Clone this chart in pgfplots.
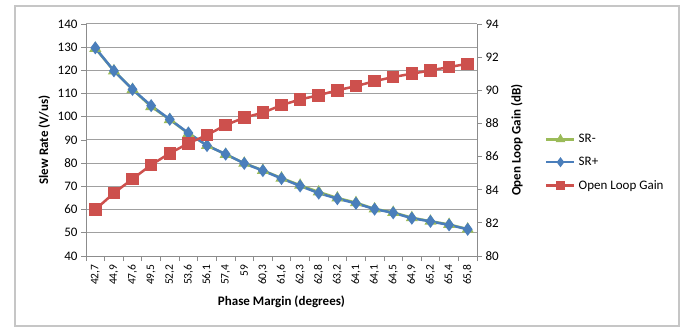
\documentclass[border=0pt]{standalone}
\usepackage{pgfplots}
\pgfplotsset{compat=1.18}
\usepackage{fontspec}
\setmainfont{Carlito}
\definecolor{srblue}{RGB}{74,126,187}
\definecolor{srred}{RGB}{205,80,77}
\definecolor{srgreen}{RGB}{155,187,89}
\definecolor{gridgray}{RGB}{160,160,160}
\definecolor{axgray}{RGB}{140,140,140}
\begin{document}
\begin{tikzpicture}[x=1pt,y=1pt]
\fill[white] (0,0) rectangle (684,329);
\useasboundingbox (0,0) rectangle (684,329);
\draw[gray!45, line width=1.2pt] (15,3) rectangle (679,323);
\pgfplotsset{
  common/.style={
    at={(86pt,73pt)}, anchor=south west,
    scale only axis, width=391pt, height=232pt,
    xmin=-0.5, xmax=20.5,
    tick align=outside,
    major tick length=5pt,
    tick style={draw=axgray, line width=0.8pt},
    axis line style={draw=axgray, line width=1pt},
    /pgf/number format/assume math mode=true,
    y tick label style={font=\fontsize{13}{13}\selectfont},
    label style={font=\fontsize{13}{13}\selectfont\bfseries},
  },
  legend image code/.code={\draw[mark repeat=2,mark phase=2,#1,mark size=3pt] plot coordinates {(0pt,0pt) (14pt,0pt) (28pt,0pt)};},
}
\begin{axis}[common,
  ymin=40, ymax=140, ytick={40,50,...,140},
  axis x line*=bottom, axis y line*=left,
  ymajorgrids, grid style={draw=gridgray, line width=1pt},
  xtick={-0.5,0.5,...,20.5},
  x tick label as interval,
  xticklabels={{42,7},{44,9},{47,6},{49,5},{52,2},{53,6},{56,1},{57,4},{59},{60,3},{61,6},{62,3},{62,8},{63,2},{64,1},{64,1},{64,5},{64,9},{65,2},{65,4},{65,8}},
  x tick label style={rotate=90, anchor=east, font=\fontsize{11.5}{11.5}\selectfont},
  xlabel={Phase Margin (degrees)},
  xlabel style={at={(axis description cs:0.5,-0.198)}, anchor=center},
  ylabel={Slew Rate (V/us)},
  ylabel style={at={(axis description cs:-0.107,0.5)}, anchor=center},
]
\addplot[srgreen, line width=2.5pt, mark=triangle*, mark size=4.5pt, mark options={solid}] coordinates {
(0,129.5) (1,119.8) (2,111.8) (3,104.4) (4,98.8) (5,92.8) (6,87.7) (7,83.8) (8,80.0) (9,76.9) (10,73.6) (11,70.5) (12,67.6) (13,65.0) (14,63.0) (15,60.3) (16,58.8) (17,56.5) (18,55.0) (19,53.6) (20,51.6)};
\addplot[srblue, line width=2.5pt, mark=diamond*, mark size=4.5pt, mark options={solid}] coordinates {
(0,129.7) (1,119.8) (2,111.8) (3,104.8) (4,98.9) (5,93.0) (6,87.6) (7,83.9) (8,79.9) (9,76.8) (10,73.4) (11,70.2) (12,67.1) (13,64.7) (14,62.7) (15,60.2) (16,58.6) (17,56.3) (18,54.9) (19,53.4) (20,51.5)};
\end{axis}
\begin{axis}[common,
  ymin=80, ymax=94, ytick={80,82,...,94},
  axis x line=none, axis y line*=right,
  ylabel={Open Loop Gain (dB)},
  ylabel style={at={(axis description cs:1.102,0.5)}, anchor=center},
  legend style={draw=none, fill=none, at={(axis description cs:1.174,0.534)}, anchor=north west,
    font=\fontsize{13}{13}\selectfont, row sep=9pt, inner sep=0pt,
    /tikz/every odd column/.append style={column sep=1pt}},
  legend cell align=left,
]
\addlegendimage{srgreen, line width=2.5pt, mark=triangle*}
\addlegendentry{SR-}
\addlegendimage{srblue, line width=2.5pt, mark=diamond*}
\addlegendentry{SR+}
\addplot[srred, line width=2.5pt, mark=square*, mark size=5pt, mark options={solid}] coordinates {
(0,82.8) (1,83.8) (2,84.65) (3,85.5) (4,86.2) (5,86.8) (6,87.3) (7,87.9) (8,88.35) (9,88.65) (10,89.1) (11,89.45) (12,89.7) (13,90.0) (14,90.25) (15,90.55) (16,90.8) (17,91.0) (18,91.2) (19,91.4) (20,91.6)};
\addlegendentry{Open Loop Gain}
\end{axis}
\end{tikzpicture}
\end{document}
